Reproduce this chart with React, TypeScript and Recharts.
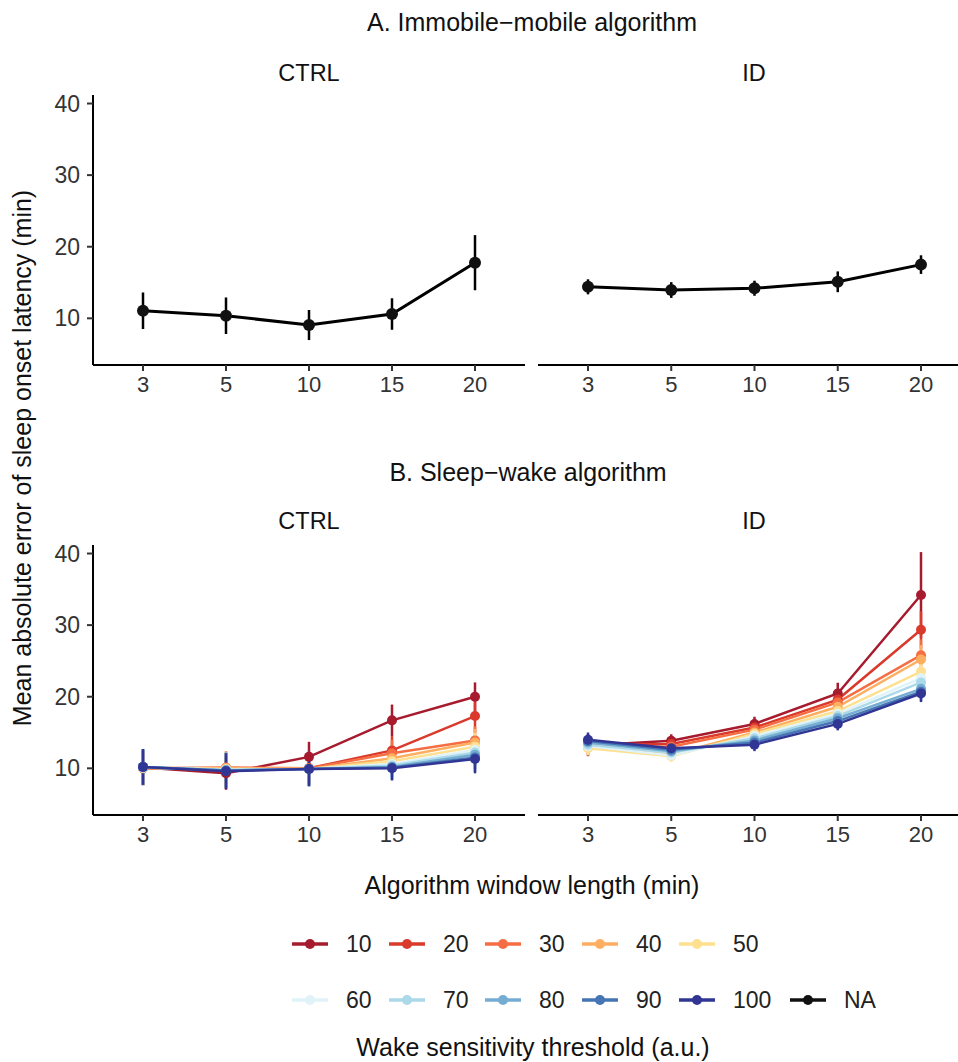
import React from "react";
import { LineChart, Line, XAxis, YAxis, ErrorBar } from "recharts";

// x categories (algorithm window length, min)
const windows = ["3", "5", "10", "15", "20"];

// A. Immobile-mobile algorithm
const immobileCtrl = [11.06, 10.36, 9.06, 10.6, 17.77];
const immobileCtrlErr = [2.55, 2.55, 2.1, 2.2, 3.85];
const immobileId = [14.4, 13.95, 14.2, 15.1, 17.5];
const immobileIdErr = [1.05, 1.1, 1.05, 1.45, 1.3];

// B. Sleep-wake algorithm, one row per wake sensitivity threshold
const thresholds = ["10", "20", "30", "40", "50", "60", "70", "80", "90", "100"];
const thresholdColors = [
  "#a61b2d", "#d93a2b", "#f46d43", "#fdae61", "#fee090",
  "#e0f3f8", "#abd9e9", "#74add1", "#4575b4", "#313695",
];

const sleepWakeCtrl = [
  [10.1, 9.3, 11.6, 16.7, 20.0],
  [10.0, 9.8, 10.0, 12.5, 17.3],
  [10.0, 10.1, 10.0, 12.1, 13.9],
  [10.0, 10.0, 9.9, 11.4, 13.6],
  [10.1, 9.9, 9.9, 11.0, 13.0],
  [10.1, 9.8, 9.9, 10.6, 12.6],
  [10.1, 9.8, 9.9, 10.4, 12.2],
  [10.2, 9.7, 9.9, 10.2, 11.9],
  [10.2, 9.7, 9.9, 10.1, 11.5],
  [10.2, 9.6, 9.9, 10.0, 11.3],
];
const sleepWakeCtrlErr = [
  [2.4, 2.3, 2.1, 2.2, 2.0],
  [2.4, 2.3, 2.2, 2.0, 2.3],
  [2.4, 2.3, 2.2, 1.9, 2.0],
  [2.4, 2.3, 2.3, 1.8, 1.9],
  [2.4, 2.4, 2.3, 1.8, 1.9],
  [2.5, 2.4, 2.3, 1.8, 1.9],
  [2.5, 2.4, 2.3, 1.7, 1.9],
  [2.5, 2.4, 2.4, 1.7, 2.0],
  [2.5, 2.5, 2.4, 1.7, 2.0],
  [2.5, 2.5, 2.4, 1.7, 2.0],
];

const sleepWakeId = [
  [13.2, 13.85, 16.2, 20.45, 34.2],
  [13.3, 13.4, 15.7, 19.6, 29.35],
  [13.1, 13.0, 15.4, 19.2, 25.8],
  [12.9, 11.9, 15.0, 18.6, 25.2],
  [12.8, 11.7, 14.8, 18.0, 23.5],
  [13.1, 11.8, 14.5, 17.6, 22.6],
  [13.3, 12.2, 14.2, 17.3, 22.0],
  [13.6, 12.4, 13.9, 17.0, 21.1],
  [13.8, 12.6, 13.6, 16.6, 20.7],
  [14.0, 12.8, 13.3, 16.2, 20.45],
];
const sleepWakeIdErr = [
  [1.5, 0.9, 1.0, 1.5, 6.0],
  [1.2, 0.9, 1.0, 1.3, 2.6],
  [1.1, 0.9, 0.9, 1.2, 2.2],
  [1.0, 0.8, 0.9, 1.1, 2.0],
  [1.0, 0.8, 0.9, 1.0, 1.8],
  [1.0, 0.8, 0.9, 1.0, 1.6],
  [1.0, 0.8, 0.9, 1.0, 1.4],
  [1.0, 0.8, 0.9, 0.9, 1.3],
  [1.0, 0.8, 0.9, 0.9, 1.2],
  [1.0, 0.8, 0.9, 0.9, 1.2],
];

const yTicks = [10, 20, 30, 40];
const yDomain: [number, number] = [3.48, 41.19];

const FONT = "'Liberation Sans', Arial, Helvetica, sans-serif";
const xTickStyle = { fill: "#333", fontSize: 22 };
const yTickStyle = { fill: "#333", fontSize: 23 };

function buildSingle(values: number[], errs: number[]) {
  return windows.map((w, i) => ({ w, v: values[i], e: errs[i] }));
}

function buildMulti(values: number[][], errs: number[][]) {
  return windows.map((w, i) => {
    const row: Record<string, any> = { w };
    thresholds.forEach((t, k) => {
      row["t" + t] = values[k][i];
      row["e" + t] = errs[k][i];
    });
    return row;
  });
}

type PanelProps = {
  data: any[];
  left: number;
  top: number;
  showY: boolean;
  children: React.ReactNode;
};

const Panel = ({ data, left, top, showY, children }: PanelProps) => {
  const width = showY ? 530 : 438;
  return (
    <div style={{ position: "absolute", left, top }}>
      <LineChart
        width={width}
        height={320}
        data={data}
        margin={{ top: 15, right: 5, bottom: 0, left: 0 }}
      >
        <XAxis
          dataKey="w"
          type="category"
          padding={{ left: 50, right: 50 }}
          axisLine={{ stroke: "#000", strokeWidth: 2 }}
          tickLine={{ stroke: "#333", strokeWidth: 2 }}
          tickSize={6}
          tickMargin={5}
          tick={xTickStyle}
          height={35}
          interval={0}
        />
        <YAxis
          hide={!showY}
          width={93}
          domain={yDomain}
          allowDataOverflow
          ticks={yTicks}
          axisLine={{ stroke: "#000", strokeWidth: 2 }}
          tickLine={{ stroke: "#333", strokeWidth: 2 }}
          tickSize={6}
          tickMargin={7}
          tick={yTickStyle}
        />
        {children}
      </LineChart>
    </div>
  );
};

const blackLine = (
  <Line
    dataKey="v"
    type="linear"
    stroke="#000"
    strokeWidth={3}
    dot={{ r: 6, fill: "#111", stroke: "#111", strokeWidth: 0 }}
    activeDot={false}
    isAnimationActive={false}
  >
    <ErrorBar dataKey="e" direction="y" width={0} stroke="#000" strokeWidth={2.5} isAnimationActive={false} />
  </Line>
);

const colourLines = thresholds.map((t, k) => (
  <Line
    key={t}
    dataKey={"t" + t}
    type="linear"
    stroke={thresholdColors[k]}
    strokeWidth={2.5}
    dot={{ r: 5, fill: thresholdColors[k], stroke: thresholdColors[k], strokeWidth: 0 }}
    activeDot={false}
    isAnimationActive={false}
  >
    <ErrorBar
      dataKey={"e" + t}
      direction="y"
      width={0}
      stroke={thresholdColors[k]}
      strokeWidth={2.5}
      isAnimationActive={false}
    />
  </Line>
));

const Text = ({ x, y, size, children, rotate }: any) => (
  <div
    style={{
      position: "absolute",
      left: x,
      top: y,
      transform: `translate(-50%, -50%)${rotate ? " rotate(-90deg)" : ""}`,
      fontSize: size,
      color: "#111",
      whiteSpace: "nowrap",
    }}
  >
    {children}
  </div>
);

const LegendItem = ({ x, y, color, label }: any) => (
  <div style={{ position: "absolute", left: x, top: y - 14, height: 28, display: "flex", alignItems: "center" }}>
    <svg width={36} height={28}>
      <line x1={0} y1={14} x2={36} y2={14} stroke={color} strokeWidth={3.5} />
      <circle cx={18} cy={14} r={5} fill={color} />
    </svg>
    <span style={{ marginLeft: 18, fontSize: 23, color: "#222" }}>{label}</span>
  </div>
);

export default function App() {
  const ctrlA = buildSingle(immobileCtrl, immobileCtrlErr);
  const idA = buildSingle(immobileId, immobileIdErr);
  const ctrlB = buildMulti(sleepWakeCtrl, sleepWakeCtrlErr);
  const idB = buildMulti(sleepWakeId, sleepWakeIdErr);

  const legendX = [292, 389, 485, 582, 679];

  return (
    <div
      style={{
        position: "absolute",
        left: 0,
        top: 0,
        width: 958,
        height: 1062,
        overflow: "hidden",
        background: "#fff",
        fontFamily: FONT,
      }}
    >
      <Text x={532} y={22} size={25}>A. Immobile−mobile algorithm</Text>
      <Text x={309} y={73} size={23.5}>CTRL</Text>
      <Text x={754} y={73} size={23.5}>ID</Text>
      <Panel data={ctrlA} left={0} top={80} showY>{blackLine}</Panel>
      <Panel data={idA} left={538} top={80} showY={false}>{blackLine}</Panel>

      <Text x={528} y={472} size={25}>B. Sleep−wake algorithm</Text>
      <Text x={309} y={521} size={23.5}>CTRL</Text>
      <Text x={754} y={521} size={23.5}>ID</Text>
      <Panel data={ctrlB} left={0} top={530} showY>{colourLines}</Panel>
      <Panel data={idB} left={538} top={530} showY={false}>{colourLines}</Panel>

      <Text x={22} y={458} size={25} rotate>
        Mean absolute error of sleep onset latency (min)
      </Text>
      <Text x={532} y={885} size={25}>Algorithm window length (min)</Text>

      {thresholds.slice(0, 5).map((t, k) => (
        <LegendItem key={t} x={legendX[k]} y={944} color={thresholdColors[k]} label={t} />
      ))}
      {thresholds.slice(5).map((t, k) => (
        <LegendItem key={t} x={legendX[k]} y={1000} color={thresholdColors[k + 5]} label={t} />
      ))}
      <LegendItem x={790} y={1000} color="#111" label="NA" />
      <Text x={533} y={1047} size={25}>Wake sensitivity threshold (a.u.)</Text>
    </div>
  );
}
